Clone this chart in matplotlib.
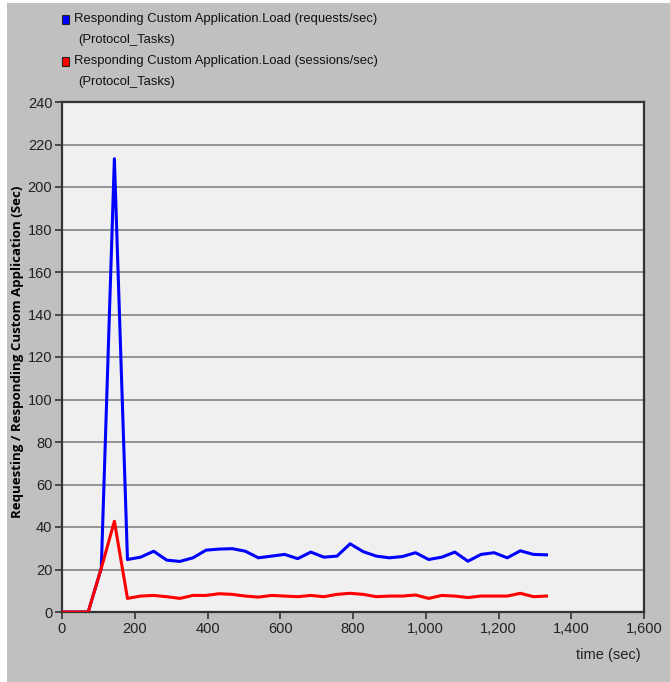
import numpy as np
import matplotlib.pyplot as plt
from matplotlib.patches import Rectangle
from matplotlib.ticker import FuncFormatter, MultipleLocator

# sample times (sec)
time_s = [0, 36, 72, 108, 144, 180, 216, 252, 288, 324, 360, 396, 432, 468, 504,
          540, 576, 612, 648, 684, 720, 756, 792, 828, 864, 900, 936, 972, 1008,
          1044, 1080, 1116, 1152, 1188, 1224, 1260, 1296, 1332]

requests = [0, 0, 0, 20.6, 213.3, 24.7, 25.8, 28.6, 24.4, 23.8, 25.5, 29.1, 29.6,
            29.8, 28.6, 25.5, 26.3, 27.1, 25.1, 28.2, 25.8, 26.3, 32.1, 28.4, 26.3,
            25.5, 26.1, 27.9, 24.7, 25.8, 28.2, 23.9, 27.1, 27.9, 25.5, 28.8, 27.1, 26.9]

sessions = [0, 0, 0, 20.6, 42.7, 6.4, 7.5, 7.8, 7.2, 6.4, 7.8, 7.8, 8.6, 8.3, 7.5,
            7.0, 7.8, 7.5, 7.2, 7.8, 7.2, 8.3, 8.8, 8.3, 7.2, 7.5, 7.5, 8.0, 6.4,
            7.8, 7.5, 6.8, 7.5, 7.5, 7.5, 8.8, 7.2, 7.5]

legend_labels = ["Responding Custom Application.Load (requests/sec)\n(Protocol_Tasks)",
                 "Responding Custom Application.Load (sessions/sec)\n(Protocol_Tasks)"]
colors = ["#0000ff", "#ff0000"]

plt.rcParams['font.family'] = ['Liberation Sans', 'DejaVu Sans']

W, H = 670, 682
fig = plt.figure(figsize=(W / 100, H / 100), dpi=100, facecolor='white')
fig.patches.append(Rectangle((7 / W, 0), 1, (H - 3) / H, transform=fig.transFigure,
                             facecolor='#c0c0c0', edgecolor='none', zorder=-10))

# plot area in pixels: left 62, right 644, top 102, bottom 612
ax = fig.add_axes([62 / W, (H - 612) / H, (644 - 62) / W, (612 - 102) / H])
ax.set_facecolor('#f0f0f0')

ax.plot(time_s, requests, color=colors[0], lw=2.2, zorder=3)
ax.plot(time_s, sessions, color=colors[1], lw=2.2, zorder=3)

ax.set_xlim(0, 1600)
ax.set_ylim(0, 240)
ax.xaxis.set_major_locator(MultipleLocator(200))
ax.yaxis.set_major_locator(MultipleLocator(20))
ax.xaxis.set_major_formatter(FuncFormatter(lambda v, p: f"{int(v):,}"))
ax.grid(axis='y', color='#8c8c8c', lw=1.3)
ax.set_axisbelow(True)

for s in ax.spines.values():
    s.set_color('#333333')
    s.set_linewidth(1.6)

ax.tick_params(direction='out', length=5, width=1.2, color='#333333',
               labelsize=10.5, labelcolor='#222222', pad=2)

ax.set_ylabel("Requesting / Responding Custom Application (Sec)", fontsize=9.5,
              fontweight='bold', family=['Open Sans', 'DejaVu Sans'])
ax.yaxis.set_label_coords(-38 / (644 - 62), 0.51)

fig.text(641 / W, 1 - 655 / H, "time (sec)", ha='right', va='center', fontsize=10.5,
         color='#222222')

# legend at top
for i, (lab, c) in enumerate(zip(legend_labels, colors)):
    y = 19 + i * 42
    fig.patches.append(Rectangle((62 / W, 1 - (y + 4.5) / H), 7 / W, 9 / H,
                                 transform=fig.transFigure, facecolor=c,
                                 edgecolor='#222222', lw=0.8))
    first, second = lab.split("\n")
    fig.text(74 / W, 1 - y / H, first, ha='left', va='center',
             fontsize=9.4, color='#111111')
    fig.text(78 / W, 1 - (y + 21) / H, second, ha='left', va='center',
             fontsize=9.4, color='#111111')

fig.savefig('out.png', dpi=100, facecolor=fig.get_facecolor())
